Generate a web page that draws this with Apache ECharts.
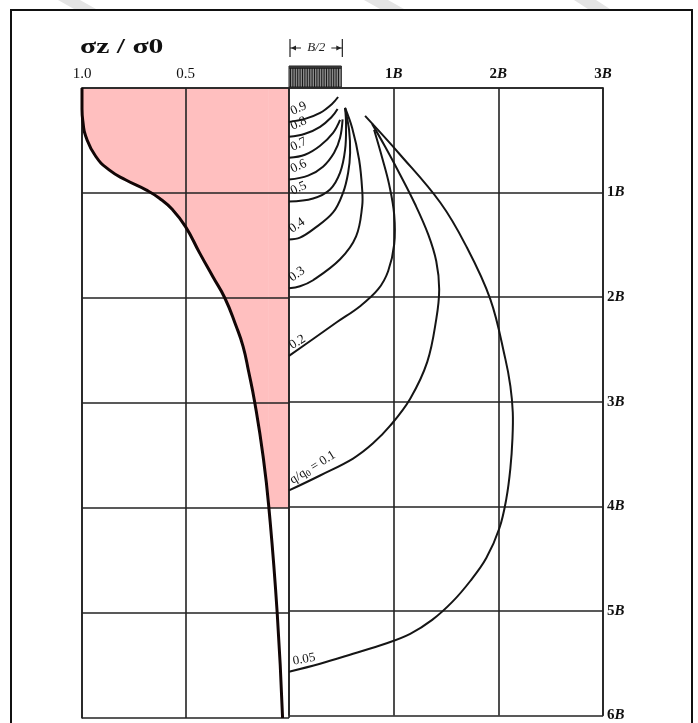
<!DOCTYPE html>
<html>
<head>
<meta charset="utf-8">
<script src="https://cdn.jsdelivr.net/npm/echarts@6/dist/echarts.min.js"></script>
<style>
  html, body { margin: 0; padding: 0; background: #fff; }
  #chart { width: 698px; height: 723px; }
</style>
</head>
<body>
<div id="chart"></div>
<script>
const SERIF = '"Liberation Serif", "DejaVu Serif", serif';
const INK = '#151515';
const PINK = '#ffbfbf';

// Tick texts
const stressTickValues = [1.0, 0.5];
const stressTickText = ['1.0', '0.5'];
const widthTickText = ['', '1', '2', '3'];          // followed by italic B
const depthTickText = ['', '1', '2', '3', '4', '5', '6'];

// Stress ratio on the centreline: [sigma_z / sigma_0, depth in B]
const centerlineCurve = [
  [1.0, 0], [1.0, 0.2], [0.995, 0.33], [0.982, 0.46], [0.934, 0.65],
  [0.869, 0.78], [0.788, 0.876], [0.691, 0.97], [0.626, 1.05], [0.562, 1.16],
  [0.50, 1.32], [0.432, 1.57], [0.367, 1.80], [0.31, 2.0], [0.257, 2.26],
  [0.222, 2.46], [0.195, 2.7], [0.165, 3.0], [0.125, 3.51], [0.097, 4.0],
  [0.057, 5.0], [0.031, 6.0]
];
const shadedDepth = 4;

// Footing half width (B/2)
const footingHalfWidth = 0.5;

// Isobars: [horizontal distance in B, depth in B], from the centreline to the footing edge
const isobar090 = [[0, 0.324], [0.153, 0.295], [0.297, 0.238], [0.411, 0.152], [0.469, 0.086]];
const isobar080 = [[0, 0.467], [0.153, 0.438], [0.297, 0.371], [0.405, 0.280], [0.464, 0.200]];
const isobar070 = [[0, 0.667], [0.153, 0.638], [0.297, 0.552], [0.421, 0.429], [0.488, 0.305]];
const isobar060 = [[0, 0.876], [0.182, 0.838], [0.325, 0.752], [0.431, 0.619], [0.488, 0.476], [0.512, 0.300]];
const isobar050 = [[0, 1.086], [0.230, 1.057], [0.392, 0.971], [0.488, 0.810], [0.536, 0.590], [0.545, 0.352], [0.536, 0.190]];
const isobar040 = [[0, 1.448], [0.105, 1.430], [0.230, 1.352], [0.421, 1.190], [0.517, 1.0], [0.565, 0.810], [0.584, 0.619], [0.574, 0.400], [0.536, 0.190]];
const isobar030 = [[0, 1.914], [0.105, 1.895], [0.230, 1.838], [0.488, 1.638], [0.641, 1.419], [0.699, 1.133], [0.699, 0.971], [0.670, 0.686], [0.603, 0.381], [0.536, 0.190]];
const isobar020 = [[0, 2.562], [0.230, 2.400], [0.459, 2.238], [0.679, 2.086], [0.852, 1.924], [0.947, 1.752], [1.005, 1.495], [1.005, 1.210], [0.957, 0.924], [0.890, 0.667], [0.813, 0.400]];
const isobar010 = [[0, 3.848], [0.297, 3.705], [0.612, 3.543], [0.80, 3.40], [0.967, 3.229], [1.158, 2.971], [1.321, 2.619], [1.407, 2.210], [1.435, 1.924], [1.407, 1.657], [1.330, 1.400], [1.206, 1.114], [1.062, 0.829], [0.919, 0.562], [0.794, 0.343]];
const isobar005 = [[0, 5.581], [0.297, 5.505], [0.612, 5.410], [0.919, 5.314], [1.158, 5.219], [1.368, 5.086], [1.560, 4.914], [1.732, 4.714], [1.885, 4.495], [2.010, 4.210], [2.077, 3.924], [2.115, 3.638], [2.135, 3.350], [2.138, 3.100], [2.115, 2.850], [2.067, 2.590], [1.923, 2.019], [1.684, 1.495], [1.445, 1.095], [1.062, 0.638], [0.727, 0.267]];

const isobars = [isobar090, isobar080, isobar070, isobar060, isobar050, isobar040, isobar030, isobar020, isobar010, isobar005];
const isobarLabels = ['0.9', '0.8', '0.7', '0.6', '0.5', '0.4', '0.3', '0.2', 'q/q{sub|0} = 0.1', '0.05'];
const isobarLabelAngles = [25, 25, 25, 25, 25, 35, 35, 32, 32, 10];

const chart = echarts.init(document.getElementById('chart'));

const gridLine = { lineStyle: { color: '#222', width: 1.6 } };
const axisLineStyle = { color: '#222', width: 1.6 };
const labelBase = { color: '#111', fontFamily: SERIF, fontSize: 15 };
const boldB = { fontStyle: 'italic', fontWeight: 'bold', fontFamily: SERIF, fontSize: 15, color: '#111' };

const shaded = centerlineCurve.filter(p => p[1] <= shadedDepth);
const shadedEnd = shaded[shaded.length - 1];

const option = {
  animation: false,
  backgroundColor: '#fff',
  grid: [
    { left: 82, top: 88, width: 207, height: 630 },
    { left: 289, top: 88, width: 314, height: 630 }
  ],
  xAxis: [
    {
      gridIndex: 0, type: 'value', min: 0, max: 1, interval: 0.5, inverse: true, position: 'top',
      axisLine: { show: true, onZero: false, lineStyle: axisLineStyle },
      axisTick: { show: false },
      splitLine: { show: true, ...gridLine },
      axisLabel: Object.assign({}, labelBase, {
        margin: 6,
        formatter: v => {
          const i = stressTickValues.findIndex(t => Math.abs(t - v) < 1e-9);
          return i >= 0 ? stressTickText[i] : '';
        }
      })
    },
    {
      gridIndex: 1, type: 'value', min: 0, max: 3, interval: 1, position: 'top',
      axisLine: { show: true, onZero: false, lineStyle: axisLineStyle },
      axisTick: { show: false },
      splitLine: { show: true, ...gridLine },
      axisLabel: Object.assign({}, labelBase, {
        margin: 6,
        fontWeight: 'bold',
        formatter: v => widthTickText[Math.round(v)] ? widthTickText[Math.round(v)] + '{i|B}' : '',
        rich: { i: boldB }
      })
    }
  ],
  yAxis: [
    {
      gridIndex: 0, type: 'value', min: 0, max: 6, interval: 1, inverse: true, position: 'left',
      axisLine: { show: true, onZero: false, lineStyle: axisLineStyle },
      axisTick: { show: false },
      axisLabel: { show: false },
      splitLine: { show: true, ...gridLine }
    },
    {
      gridIndex: 1, type: 'value', min: 0, max: 6, interval: 1, inverse: true, position: 'right',
      axisLine: { show: true, onZero: false, lineStyle: axisLineStyle },
      axisTick: { show: false },
      splitLine: { show: true, ...gridLine },
      axisLabel: Object.assign({}, labelBase, {
        margin: 4,
        fontWeight: 'bold',
        formatter: v => depthTickText[Math.round(v)] ? depthTickText[Math.round(v)] + '{i|B}' : '',
        rich: { i: boldB }
      })
    }
  ],
  series: [
    // shaded stress region between the curve and sigma = 0, down to 4B
    {
      type: 'line', xAxisIndex: 0, yAxisIndex: 0, data: shaded, smooth: 0.5, symbol: 'none',
      lineStyle: { opacity: 0 }, areaStyle: { color: PINK, opacity: 1, origin: 'start' }, z: -1, silent: true
    },
    {
      type: 'line', xAxisIndex: 0, yAxisIndex: 0, data: [[shadedEnd[0], shadedDepth], [0, shadedDepth]], symbol: 'none',
      lineStyle: { opacity: 0 }, areaStyle: { color: PINK, opacity: 1, origin: 'start' }, z: -1, silent: true
    },
    // centreline stress curve
    {
      type: 'line', xAxisIndex: 0, yAxisIndex: 0, data: centerlineCurve, smooth: 0.5, symbol: 'none',
      lineStyle: { color: '#120606', width: 3 }, silent: true
    },
    // isobars: one item per curve, each drawn as a smoothed polyline through its points
    {
      type: 'custom', xAxisIndex: 1, yAxisIndex: 1, silent: true,
      data: isobars.map((d, i) => [d[0][0], d[0][1], i]),
      encode: { x: 0, y: 1 },
      renderItem: (params, api) => {
        const pts = isobars[api.value(2)].map(p => api.coord(p));
        return {
          type: 'polyline',
          shape: { points: pts, smooth: 0.38 },
          style: { stroke: INK, lineWidth: 2, fill: null }
        };
      }
    },
    // loaded strip (half width) with its dimension marker
    {
      type: 'custom', xAxisIndex: 1, yAxisIndex: 1, clip: false, silent: true,
      data: [[0, footingHalfWidth]],
      renderItem: (params, api) => {
        const a = api.coord([api.value(0), 0]);
        const b = api.coord([api.value(1), 0]);
        const top = a[1] - 22, h = 21;
        const kids = [
          { type: 'rect', shape: { x: a[0], y: top, width: b[0] - a[0], height: h }, style: { fill: '#8a8a8a', stroke: '#222', lineWidth: 1 } },
          { type: 'rect', shape: { x: a[0], y: top, width: b[0] - a[0], height: 3 }, style: { fill: '#333' } }
        ];
        for (let x = a[0] + 1.5; x < b[0] - 0.5; x += 2.4) {
          kids.push({ type: 'line', shape: { x1: x, y1: top + 2, x2: x, y2: top + h }, style: { stroke: '#1a1a1a', lineWidth: 1 } });
        }
        const ym = a[1] - 40;
        const ax = a[0] + 1, bx = b[0] + 1;
        kids.push(
          { type: 'line', shape: { x1: ax, y1: ym - 9, x2: ax, y2: ym + 9 }, style: { stroke: '#222', lineWidth: 1.2 } },
          { type: 'line', shape: { x1: bx, y1: ym - 9, x2: bx, y2: ym + 9 }, style: { stroke: '#222', lineWidth: 1.2 } },
          { type: 'line', shape: { x1: ax, y1: ym, x2: ax + 11, y2: ym }, style: { stroke: '#222', lineWidth: 1 } },
          { type: 'line', shape: { x1: bx - 11, y1: ym, x2: bx, y2: ym }, style: { stroke: '#222', lineWidth: 1 } },
          { type: 'polygon', shape: { points: [[ax + 1, ym], [ax + 6, ym - 2.5], [ax + 6, ym + 2.5]] }, style: { fill: '#222' } },
          { type: 'polygon', shape: { points: [[bx - 1, ym], [bx - 6, ym - 2.5], [bx - 6, ym + 2.5]] }, style: { fill: '#222' } },
          { type: 'text', style: { x: (ax + bx) / 2, y: ym, text: 'B/2', textAlign: 'center', textVerticalAlign: 'middle',
              font: 'italic 13px ' + SERIF, fill: '#222' } }
        );
        return { type: 'group', children: kids };
      }
    }
  ]
};

chart.setOption(option);

// Isobar value labels, placed at each curve's centreline end
const labelGraphics = isobars.map((d, i) => {
  const p = chart.convertToPixel({ xAxisIndex: 1, yAxisIndex: 1 }, d[0]);
  const isLong = i === 8;
  return {
    type: 'text',
    x: p[0] + (isLong ? 6 : 5), y: p[1] - (isLong ? 3 : 4),
    rotation: isobarLabelAngles[i] * Math.PI / 180,
    silent: true,
    style: {
      text: isobarLabels[i], x: 0, y: 0, textAlign: 'left', textVerticalAlign: 'bottom',
      font: '13px ' + SERIF, fill: '#111',
      rich: { sub: { fontSize: 9, fontFamily: SERIF, fill: '#111', verticalAlign: 'bottom', padding: [6, 0, 0, 0] } }
    }
  };
});

chart.setOption({
  graphic: [
    // faint marks above the frame
    { type: 'polygon', silent: true, shape: { points: [[58, 0], [80, 0], [96, 9], [74, 9]] }, style: { fill: '#e4e4e4' } },
    { type: 'polygon', silent: true, shape: { points: [[364, 0], [388, 0], [404, 9], [380, 9]] }, style: { fill: '#e4e4e4' } },
    { type: 'polygon', silent: true, shape: { points: [[574, 0], [596, 0], [610, 9], [588, 9]] }, style: { fill: '#e4e4e4' } },
    // frame
    { type: 'rect', silent: true, shape: { x: 11, y: 10, width: 681, height: 760 }, style: { fill: 'none', stroke: '#111', lineWidth: 2 } },
    // axis title
    { type: 'text', silent: true, x: 80, y: 47, scaleX: 1.35, style: { text: 'σz / σ0', font: 'bold 22px ' + SERIF, fill: '#111', textVerticalAlign: 'middle' } },
    ...labelGraphics
  ]
});
</script>
</body>
</html>
